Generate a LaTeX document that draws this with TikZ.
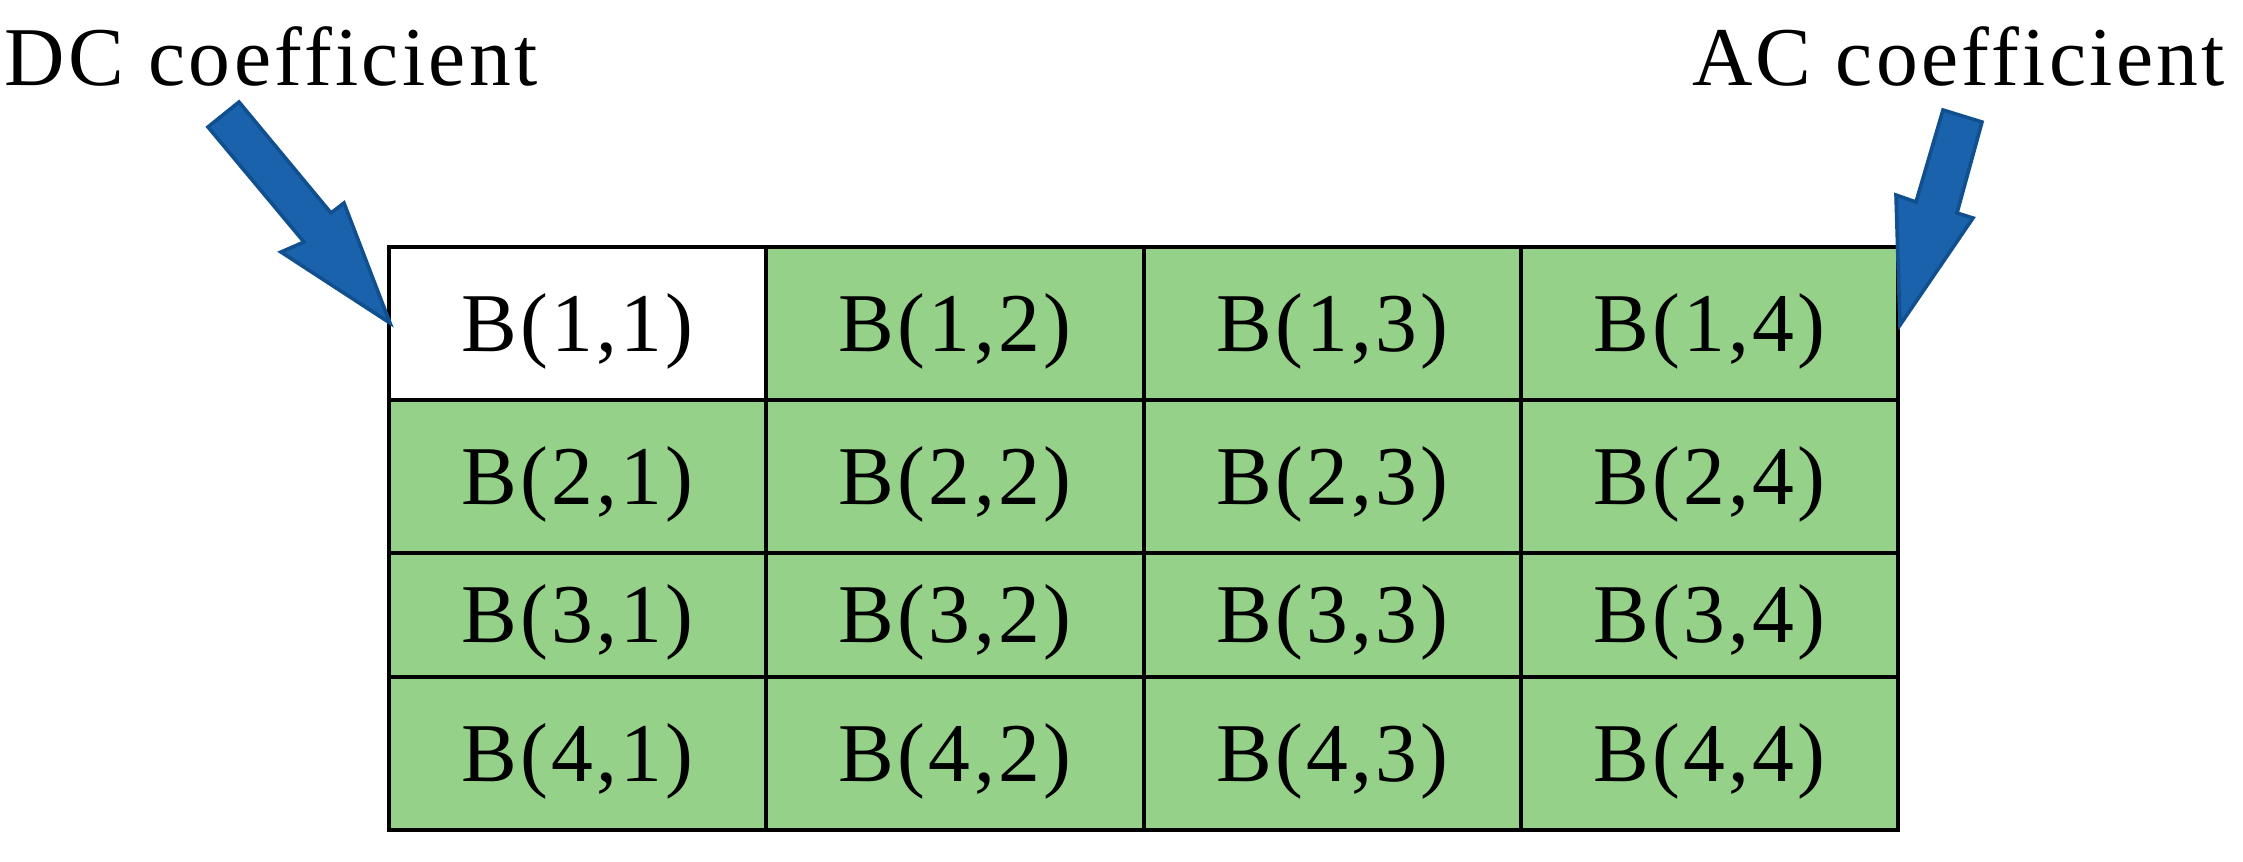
\documentclass[tikz,border=0pt]{standalone}
\usepackage{fontspec}
\setmainfont{Liberation Serif}[LetterSpace=4]
\definecolor{cellgreen}{RGB}{150,209,138}
\definecolor{arrowfill}{RGB}{27,98,172}
\definecolor{arrowline}{RGB}{16,80,143}
\tikzset{
  celltext/.style={anchor=base, inner sep=0pt, font=\fontsize{20.9pt}{24pt}\selectfont},
  labeltext/.style={inner sep=0pt, font=\fontsize{20.9pt}{24pt}\selectfont},
  blockarrow/.style={fill=arrowfill, draw=arrowline, line width=0.9pt, line join=miter},
  gridline/.style={draw=black, line width=0.8pt}
}
\begin{document}
\begin{tikzpicture}[x=0.25pt,y=-0.25pt]
\useasboundingbox (0,0) rectangle (2243,861);
% cell fills
\fill[cellgreen] (389,247) rectangle (1898,830);
\fill[white] (389,247) rectangle (766,400);
% grid
\foreach \xx in {766,1144,1521} \draw[gridline] (\xx,247) -- (\xx,830);
\foreach \yy in {400,553,677} \draw[gridline] (389,\yy) -- (1898,\yy);
\draw[gridline, line width=0.9pt] (389,247) rectangle (1898,830);
% cell texts
\foreach \r/\yc in {1/323.5,2/476.5,3/615,4/753.5}{
  \foreach \c/\xc in {1/577.5,2/955,3/1332.5,4/1709.5}{
    \node[celltext] (b\r\c) at (\xc,\yc+27.5) {B(\r,\c)};
  }
}
% labels
\node[labeltext, anchor=base west] (dc) at (4,85) {DC coefficient};
\node[labeltext, anchor=base east] (ac) at (2226,85) {AC coefficient};
% block arrows
\draw[blockarrow] (208,127) -- (304,242) -- (281,252) -- (390,323) -- (344,203) -- (331,213) -- (239,102) -- cycle;
\draw[blockarrow] (1943,110) -- (1982,122) -- (1957,213) -- (1973,218) -- (1900,325) -- (1896,195) -- (1916,202) -- cycle;
\end{tikzpicture}
\end{document}
